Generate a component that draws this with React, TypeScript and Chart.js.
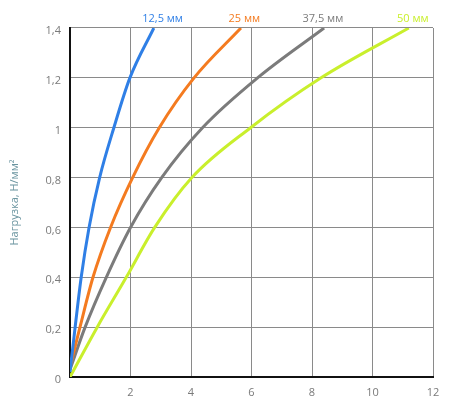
import React, { useEffect, useRef } from "react";
import { Chart, registerables } from "chart.js";

Chart.register(...registerables);

const seriesNames = ["12,5 мм", "25 мм", "37,5 мм", "50 мм"];
const seriesColors = ["#2f7fe6", "#f47b20", "#7b7b7b", "#c9ef2c"];
const labelX = [3.06, 5.76, 8.36, 11.33];

const blueX = [0, 0.17, 0.37, 0.63, 0.98, 1.45, 1.98, 2.77];
const blueY = [0.02, 0.2, 0.4, 0.6, 0.8, 1.0, 1.2, 1.4];
const orangeX = [0, 0.33, 0.76, 1.34, 2.07, 2.95, 4.1, 5.65];
const orangeY = [0.04, 0.2, 0.4, 0.6, 0.8, 1.0, 1.2, 1.4];
const grayX = [0, 0.5, 1.2, 2.0, 3.03, 4.38, 6.2, 8.4];
const grayY = [0.03, 0.2, 0.4, 0.6, 0.8, 1.0, 1.2, 1.4];
const greenX = [0, 0.9, 1.86, 2.8, 4.03, 5.97, 8.3, 11.2];
const greenY = [0, 0.2, 0.4, 0.6, 0.8, 1.0, 1.2, 1.4];

const xTicks = [0, 2, 4, 6, 8, 10, 12];
const yTickLabels = ["0", "0,2", "0,4", "0,6", "0,8", "1", "1,2", "1,4"];
const yTitle = "Нагрузка, Н/мм²";

const FONT = "'Open Sans', 'Noto Sans', sans-serif";

const toPts = (xs: number[], ys: number[]) => xs.map((x, i) => ({ x, y: ys[i] }));

const labelPlugin = {
  id: "endLabels",
  afterDraw(chart: any) {
    const ctx = chart.ctx;
    const xs = chart.scales.x;
    ctx.save();
    ctx.font = `11px ${FONT}`;
    ctx.textAlign = "center";
    ctx.textBaseline = "middle";
    seriesNames.forEach((name, i) => {
      ctx.fillStyle = seriesColors[i];
      ctx.fillText(name, xs.getPixelForValue(labelX[i]), 19);
    });
    ctx.restore();
  },
};

export default function App() {
  const ref = useRef<HTMLCanvasElement | null>(null);
  useEffect(() => {
    if (!ref.current) return;
    const all = [
      toPts(blueX, blueY),
      toPts(orangeX, orangeY),
      toPts(grayX, grayY),
      toPts(greenX, greenY),
    ];
    const chart = new Chart(ref.current, {
      type: "scatter",
      data: {
        datasets: all.map((d, i) => ({
          label: seriesNames[i],
          data: d,
          showLine: true,
          borderColor: seriesColors[i],
          backgroundColor: seriesColors[i],
          borderWidth: 3,
          pointRadius: 0,
          cubicInterpolationMode: "monotone" as const,
        })),
      },
      options: {
        animation: false,
        responsive: false,
        devicePixelRatio: 1,
        layout: { padding: { top: 28, right: 37, left: 0, bottom: 0 } },
        plugins: { legend: { display: false }, tooltip: { enabled: false } },
        scales: {
          x: {
            type: "linear",
            min: 0,
            max: 12,
            afterBuildTicks: (axis: any) => {
              axis.ticks = xTicks.map((v) => ({ value: v }));
            },
            afterFit: (axis: any) => {
              axis.height = 23;
            },
            ticks: {
              padding: 9,
              color: "#7a7a7a",
              font: { family: FONT, size: 11 },
              maxRotation: 0,
              callback: (v: any) => (v === 0 ? "" : String(v)),
            },
            grid: { color: "#8a8a8a", lineWidth: 1, drawTicks: false },
            border: { display: true, color: "#111", width: 2 },
          },
          y: {
            type: "linear",
            min: 0,
            max: 1.4,
            afterBuildTicks: (axis: any) => {
              axis.ticks = yTickLabels.map((_, i) => ({ value: i * 0.2 }));
            },
            afterFit: (axis: any) => {
              axis.width = 70;
            },
            ticks: {
              padding: 9,
              labelOffset: 3,
              color: "#7a7a7a",
              font: { family: FONT, size: 11 },
              callback: (_v: any, i: number) => yTickLabels[i],
            },
            grid: { color: "#8a8a8a", lineWidth: 1, drawTicks: false },
            border: { display: true, color: "#111", width: 2 },
            title: {
              display: true,
              text: yTitle,
              color: "#6b95a0",
              font: { family: FONT, size: 11 },
              padding: { top: 8, bottom: 0 },
            },
          },
        },
      },
      plugins: [labelPlugin],
    });
    return () => chart.destroy();
  }, []);
  return (
    <div style={{ position: "fixed", left: 0, top: 0, width: 470, height: 400, background: "#fff" }}>
      <canvas ref={ref} width={470} height={400} style={{ width: 470, height: 400 }} />
    </div>
  );
}
